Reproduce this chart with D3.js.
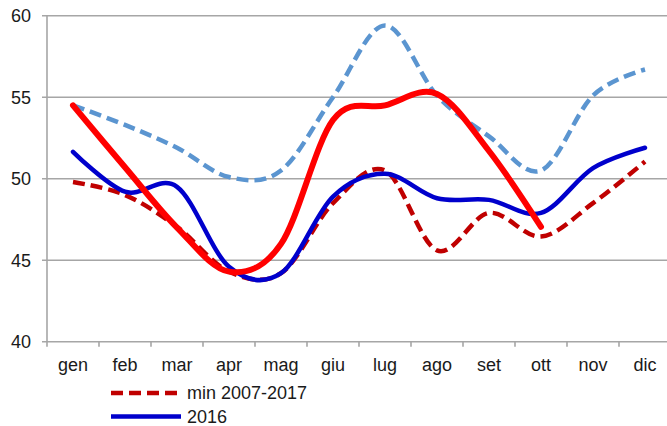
<!DOCTYPE html>
<html><head><meta charset="utf-8">
<script src="https://cdn.jsdelivr.net/npm/d3@7"></script>
<style>body{margin:0;background:#fff;}svg{display:block;font-family:"Liberation Sans",Arial,sans-serif;}</style>
</head><body>
<svg id="c" width="667" height="426"></svg>
<script>
const months = ["gen","feb","mar","apr","mag","giu","lug","ago","set","ott","nov","dic"];
const yTicks = [40,45,50,55,60];
const max0717 = [54.5,53.3,51.9,50.1,50.5,55.0,59.4,55.1,52.6,50.5,55.1,56.7];
const y2017   = [54.5,50.7,47.0,44.3,46.0,53.6,54.5,55.2,51.7,47.05];
const y2016   = [51.65,49.2,49.5,44.6,44.2,48.9,50.3,48.8,48.7,47.9,50.65,51.9];
const min0717 = [49.8,49.0,47.05,44.3,44.2,48.5,50.5,45.6,47.9,46.45,48.5,51.05];
const legendItems = [
  {name:"min 2007-2017", color:"#C00000", dash:"12,6", width:4.5},
  {name:"2016", color:"#0000CC", dash:null, width:4.5}
];

const svg = d3.select("#c");
const pL = 47, pR = 671, pT = 15.7, pB = 341.7;
const FS = 18;
const x = d3.scaleBand().domain(months).range([pL,pR]);
const y = d3.scaleLinear().domain([40,60]).range([pB,pT]);
const cx = m => x(m) + x.bandwidth()/2;

// gridlines
svg.append("g").selectAll("line").data(yTicks).join("line")
  .attr("x1",pL-5).attr("x2",pR).attr("y1",d=>y(d)).attr("y2",d=>y(d))
  .attr("stroke","#A6A6A6").attr("stroke-width",1.6);
// y axis line
svg.append("line").attr("x1",pL).attr("x2",pL).attr("y1",pT).attr("y2",pB)
  .attr("stroke","#A6A6A6").attr("stroke-width",1.6);
// x ticks
svg.append("g").selectAll("line").data(months).join("line")
  .attr("x1",d=>x(d)).attr("x2",d=>x(d)).attr("y1",pB).attr("y2",pB+5)
  .attr("stroke","#A6A6A6").attr("stroke-width",1.6);
// y labels
svg.append("g").selectAll("text").data(yTicks).join("text")
  .attr("x",pL-16).attr("y",d=>y(d)).attr("dy","0.36em").attr("text-anchor","end")
  .attr("font-size",FS).attr("fill","#1a1a1a").text(d=>d);
// x labels
svg.append("g").selectAll("text").data(months).join("text")
  .attr("x",d=>cx(d)).attr("y",371).attr("text-anchor","middle")
  .attr("font-size",FS).attr("fill","#1a1a1a").text(d=>d);

const line = d3.line().x((d,i)=>cx(months[i])).y(d=>y(d)).curve(d3.curveCatmullRom.alpha(0));
function draw(data,color,w,dash){
  const p = svg.append("path").attr("d",line(data)).attr("fill","none")
    .attr("stroke",color).attr("stroke-width",w).attr("stroke-linecap","round").attr("stroke-linejoin","round");
  if(dash) p.attr("stroke-dasharray",dash).attr("stroke-linecap","butt");
}
draw(max0717,"#5B95D0",4.5,"12,6");
draw(min0717,"#C00000",4.5,"12,6");
draw(y2016,"#0000CC",4.5,null);
draw(y2017,"#FF0000",6,null);

// legend
const lg = svg.append("g").selectAll("g").data(legendItems).join("g")
  .attr("transform",(d,i)=>`translate(0,${393+i*23.5})`);
lg.append("line").attr("x1",111).attr("x2",181).attr("y1",0).attr("y2",0)
  .attr("stroke",d=>d.color).attr("stroke-width",d=>d.width)
  .attr("stroke-dasharray",d=>d.dash);
lg.append("text").attr("x",187).attr("y",0).attr("dy","0.36em").attr("font-size",FS)
  .attr("fill","#1a1a1a").text(d=>d.name);
</script>
</body></html>
